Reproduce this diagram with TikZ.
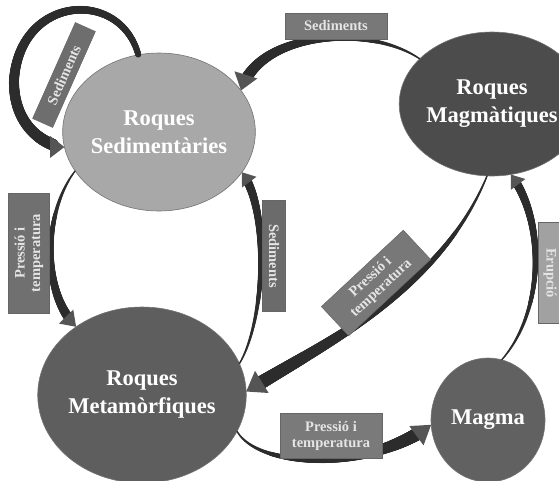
\documentclass[tikz,border=0pt]{standalone}
\usepackage{fontspec}
\setmainfont{Liberation Serif}
\usetikzlibrary{shapes.geometric,decorations.markings}
\definecolor{arr}{HTML}{2C2C2C}
\definecolor{tipc}{HTML}{555555}
\tikzset{
  rock/.style={ellipse, inner sep=0pt, align=center, text=white,
    font=\bfseries\fontsize{22.5}{28}\selectfont, draw=black!55, line width=0.6pt},
  lbl/.style={draw=black!60, line width=0.5pt, fill=#1, text=white!90!black,
    font=\bfseries\fontsize{14.5}{15.5}\selectfont, align=center, inner sep=2pt},
  taper/.style n args={4}{postaction={decorate, decoration={markings,
    mark=between positions 0 and 1 step 0.5pt with {%
      \pgfmathsetmacro\tdist{\pgfkeysvalueof{/pgf/decoration/mark info/distance from start}}%
      \pgfmathsetmacro\tlim{\pgfdecoratedpathlength-#3+1}%
      \ifdim\tdist pt<\tlim pt
        \pgfmathsetmacro\trad{#1+(#2-#1)*\tdist/\pgfdecoratedpathlength}%
        \fill[arr] (0,0) circle[radius=\trad pt];%
      \fi}}},
    postaction={decorate, decoration={markings,
    mark=at position 0.9999 with {\fill[tipc] (0.3pt,0pt) -- (-#3 pt,#4 pt) -- (-#3 pt,-#4 pt) -- cycle;}}}}
}
\begin{document}
\begin{tikzpicture}[x=1pt,y=-1pt]
\useasboundingbox (0,0) rectangle (559,480);
\clip (0,0) rectangle (559,480);
% rocks
\node[rock, fill=black!34, minimum width=144pt, minimum height=158pt] (sed) at (159,132) {Roques\\Sedimentàries};
\node[rock, fill=black!70, minimum width=130pt, minimum height=144pt] (mag) at (492,104) {Roques\\Magmàtiques};
\node[rock, fill=black!63, minimum width=158pt, minimum height=176pt] (met) at (142,395) {Roques\\Metamòrfiques};
\node[rock, fill=black!62, minimum width=114pt, minimum height=124pt] (magma) at (488,420) {Magma};
% arrows
\path[taper={3}{6}{14}{11}] (sed.105) .. controls (120,-12) and (20,-5) .. (14,80) .. controls (13,130) and (50,147) .. (sed.189);
\path[taper={0.8}{6}{16}{12}] (mag.148) .. controls (370,25) and (260,30) .. (sed.27);
\path[taper={0.8}{5}{14}{10}] (sed.205) .. controls (45,210) and (40,290) .. (met.134);
\path[taper={0.8}{4.5}{12}{9}] (met.18) .. controls (265,320) and (270,210) .. (sed.334);
\path[taper={0.8}{7}{18}{13}] (mag.266) .. controls (440,290) and (330,340) .. (met.2);
\path[taper={0.8}{7}{18}{12}] (met.339) .. controls (260,470) and (370,470) .. (magma.185);
\path[taper={0.8}{4.5}{12}{9}] (magma.77) .. controls (545,310) and (545,220) .. (mag.285);
% labels
\node[lbl=black!53, minimum width=102pt, minimum height=26pt] (l1) at (336,26) {Sediments};
\node[lbl=black!57, minimum width=105pt, minimum height=22pt, rotate=66] (l2) at (64,75) {Sediments};
\node[lbl=black!56, minimum width=120pt, minimum height=41pt, rotate=90] (l3) at (29,253) {Pressió i\\temperatura};
\node[lbl=black!58, minimum width=111pt, minimum height=23pt, rotate=-90] (l4) at (274,256) {Sediments};
\node[lbl=black!53, minimum width=112pt, minimum height=40pt, rotate=43] (l5) at (376,283) {Pressió i\\temperatura};
\node[lbl=black!52, minimum width=102pt, minimum height=45pt] (l6) at (331,436) {Pressió i\\temperatura};
\node[lbl=black!37, minimum width=101pt, minimum height=24pt, rotate=-90] (l7) at (550,273) {Erupció};
\end{tikzpicture}
\end{document}
